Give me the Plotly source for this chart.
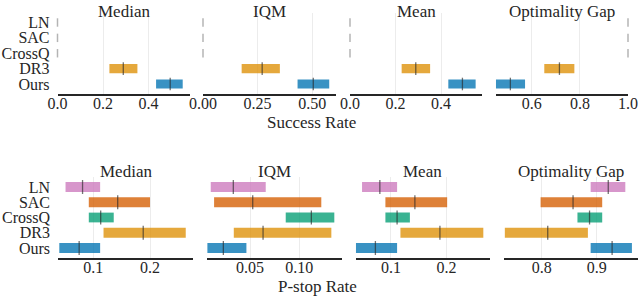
import plotly.graph_objects as go

algos = ["LN", "SAC", "CrossQ", "DR3", "Ours"]
metrics = ["Median", "IQM", "Mean", "Optimality Gap"]
colors = ["#cc78bc", "#d55e00", "#029e73", "#de8f05", "#0173b2"]

# Success rate (top row): lower CI, point estimate, upper CI
sr_median_low = [0.0, 0.0, 0.0, 0.228, 0.433]
sr_median_pt = [0.0, 0.0, 0.0, 0.289, 0.495]
sr_median_high = [0.0, 0.0, 0.0, 0.351, 0.550]
sr_iqm_low = [0.0, 0.0, 0.0, 0.177, 0.433]
sr_iqm_pt = [0.0, 0.0, 0.0, 0.271, 0.505]
sr_iqm_high = [0.0, 0.0, 0.0, 0.352, 0.578]
sr_mean_low = [0.0, 0.0, 0.0, 0.227, 0.432]
sr_mean_pt = [0.0, 0.0, 0.0, 0.289, 0.494]
sr_mean_high = [0.0, 0.0, 0.0, 0.352, 0.552]
sr_gap_low = [1.0, 1.0, 1.0, 0.652, 0.451]
sr_gap_pt = [1.0, 1.0, 1.0, 0.715, 0.511]
sr_gap_high = [1.0, 1.0, 1.0, 0.777, 0.572]

# P-stop rate (bottom row)
ps_median_low = [0.051, 0.092, 0.092, 0.118, 0.040]
ps_median_pt = [0.081, 0.143, 0.113, 0.188, 0.075]
ps_median_high = [0.112, 0.200, 0.136, 0.263, 0.112]
ps_iqm_low = [0.0101, 0.0135, 0.0862, 0.0335, 0.0067]
ps_iqm_pt = [0.0330, 0.0527, 0.1122, 0.0632, 0.0229]
ps_iqm_high = [0.0659, 0.1223, 0.1355, 0.1325, 0.0463]
ps_mean_low = [0.048, 0.090, 0.090, 0.117, 0.037]
ps_mean_pt = [0.080, 0.143, 0.111, 0.188, 0.072]
ps_mean_high = [0.111, 0.201, 0.134, 0.266, 0.111]
ps_gap_low = [0.889, 0.798, 0.865, 0.733, 0.889]
ps_gap_pt = [0.921, 0.857, 0.887, 0.811, 0.928]
ps_gap_high = [0.952, 0.910, 0.910, 0.884, 0.964]

x_titles = ["Success Rate", "P-stop Rate"]

top_ticks = [[0.0, 0.2, 0.4], [0.0, 0.25, 0.5], [0.0, 0.2, 0.4], [0.6, 0.8, 1.0]]
top_ticktext = [["0.0", "0.2", "0.4"], ["0.00", "0.25", "0.50"], ["0.0", "0.2", "0.4"], ["0.6", "0.8", "1.0"]]
bot_ticks = [[0.1, 0.2], [0.0, 0.05, 0.10], [0.1, 0.2], [0.8, 0.9]]
bot_ticktext = [["0.1", "0.2"], ["0.00", "0.05", "0.10"], ["0.1", "0.2"], ["0.8", "0.9"]]

W, H = 640, 296
FONT = "Liberation Serif, Times New Roman, Times, serif"

panels = [
    (sr_median_low, sr_median_pt, sr_median_high),
    (sr_iqm_low, sr_iqm_pt, sr_iqm_high),
    (sr_mean_low, sr_mean_pt, sr_mean_high),
    (sr_gap_low, sr_gap_pt, sr_gap_high),
    (ps_median_low, ps_median_pt, ps_median_high),
    (ps_iqm_low, ps_iqm_pt, ps_iqm_high),
    (ps_mean_low, ps_mean_pt, ps_mean_high),
    (ps_gap_low, ps_gap_pt, ps_gap_high),
]

# layout geometry (pixels)
x_px = [(57.5, 190), (203, 336), (350, 482), (495.7, 628),
        (58, 193), (206.7, 341.7), (355.7, 490), (504, 638.3)]
x_ranges = [[0, 0.582], [0, 0.609], [0, 0.580], [0.45, 1.0],
            [0.0377, 0.2758], [0.006, 0.143], [0.0366, 0.278], [0.7315, 0.9756]]
row_px = [(12.5, 94), (177, 258)]
row_range = [[4.65, -0.65], [4.656, -0.656]]
bar_w = [0.6, 0.64]
med_size = [9, 10]
title_top_px = [0, 160]
xlabel_pos = [(311, 122), (317, 286)]

fig = go.Figure()
layout = {}
annotations = []

for i, (low, pt, high) in enumerate(panels):
    row = i // 4
    col = i % 4
    k = i + 1
    xa = "x" if k == 1 else f"x{k}"
    ya = "y" if k == 1 else f"y{k}"
    widths = [h - l for l, h in zip(low, high)]
    bar_idx = [j for j in range(5) if widths[j] > 0]
    zero_idx = [j for j in range(5) if widths[j] <= 0]
    fig.add_trace(go.Bar(
        orientation="h",
        y=[algos[j] for j in bar_idx],
        x=[widths[j] for j in bar_idx],
        base=[low[j] for j in bar_idx],
        width=bar_w[row],
        marker=dict(color=[colors[j] for j in bar_idx], opacity=0.78, line=dict(width=0)),
        xaxis=xa, yaxis=ya, showlegend=False, hoverinfo="skip",
    ))
    fig.add_trace(go.Scatter(
        x=[pt[j] for j in bar_idx], y=[algos[j] for j in bar_idx],
        mode="markers",
        marker=dict(symbol="line-ns", size=med_size[row],
                    line=dict(color="rgba(40,40,40,0.65)", width=1.3)),
        xaxis=xa, yaxis=ya, showlegend=False, hoverinfo="skip", cliponaxis=False,
    ))
    if zero_idx:
        fig.add_trace(go.Scatter(
            x=[pt[j] for j in zero_idx], y=[algos[j] for j in zero_idx],
            mode="markers",
            marker=dict(symbol="line-ns", size=6,
                        line=dict(color="#b4b4b4", width=1.5)),
            xaxis=xa, yaxis=ya, showlegend=False, hoverinfo="skip", cliponaxis=False,
        ))
    x0, x1 = x_px[i]
    y0, y1 = row_px[row]
    ticks = top_ticks[col] if row == 0 else bot_ticks[col]
    ttext = top_ticktext[col] if row == 0 else bot_ticktext[col]
    layout["xaxis" if k == 1 else f"xaxis{k}"] = dict(
        domain=[x0 / W, x1 / W], range=x_ranges[i], anchor=ya,
        tickmode="array", tickvals=ticks, ticktext=ttext, ticks="",
        showgrid=True, gridcolor="#ececec", gridwidth=1,
        showline=True, linecolor="#262626", linewidth=2,
        zeroline=False, tickfont=dict(family=FONT, size=16, color="#262626"),
        fixedrange=True, automargin=False, ticklabelstandoff=-6,
    )
    layout["yaxis" if k == 1 else f"yaxis{k}"] = dict(
        domain=[1 - y1 / H, 1 - y0 / H], range=row_range[row], anchor=xa,
        type="category", categoryorder="array", categoryarray=algos,
        tickmode="array", tickvals=algos, ticktext=algos,
        showticklabels=(col == 0), ticks="", showgrid=False, showline=False,
        zeroline=False, tickfont=dict(family=FONT, size=16, color="#262626"),
        fixedrange=True, automargin=False, ticklabelstandoff=7,
    )
    annotations.append(dict(
        text=metrics[col], x=(x0 + x1) / 2 / W, y=1 - title_top_px[row] / H,
        xref="paper", yref="paper", showarrow=False, xanchor="center", yanchor="top",
        font=dict(family=FONT, size=17, color="#262626"),
    ))

for r in range(2):
    px, py = xlabel_pos[r]
    annotations.append(dict(
        text=x_titles[r], x=px / W, y=1 - py / H, xref="paper", yref="paper",
        showarrow=False, xanchor="center", yanchor="middle",
        font=dict(family=FONT, size=17, color="#262626"),
    ))

fig.update_layout(
    template="none", autosize=False,
    width=W, height=H, margin=dict(l=0, r=0, t=0, b=0, pad=0),
    paper_bgcolor="white", plot_bgcolor="white",
    annotations=annotations, barmode="overlay", **layout,
)

fig.write_html("out.html", config={"displayModeBar": False},
               post_script="document.body.style.margin='0';document.body.style.overflow='hidden';")
